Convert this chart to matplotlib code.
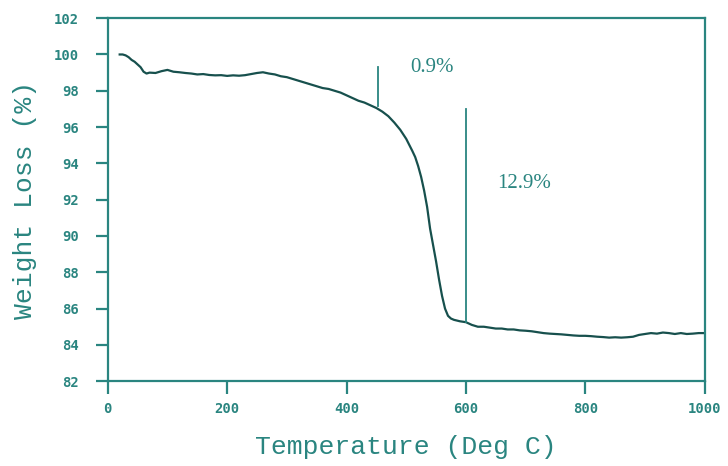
import matplotlib.pyplot as plt

# TGA curve
temp = [20, 25, 30, 35, 40, 45, 50, 55, 60, 65, 70, 80, 90, 100, 110, 120, 130, 140,
        150, 160, 170, 180, 190, 200, 210, 220, 230, 240, 250, 260, 270, 280, 290,
        300, 310, 320, 330, 340, 350, 360, 370, 380, 390, 400, 410, 420, 430, 440,
        450, 460, 470, 480, 490, 500, 510, 515, 520, 525, 530, 535, 540, 545, 550,
        555, 560, 565, 570, 575, 580, 590, 600, 610, 620, 630, 640, 650, 660, 670,
        680, 690, 700, 710, 720, 730, 740, 750, 760, 770, 780, 790, 800, 810, 820,
        830, 840, 850, 860, 870, 880, 890, 900, 910, 920, 930, 940, 950, 960, 970,
        980, 990, 1000]
weight = [100.0, 100.0, 99.95, 99.85, 99.7, 99.6, 99.45, 99.3, 99.05, 98.95, 99.0,
          98.98, 99.08, 99.15, 99.05, 99.02, 98.98, 98.95, 98.9, 98.92, 98.87, 98.85,
          98.86, 98.82, 98.85, 98.83, 98.86, 98.92, 98.98, 99.02, 98.95, 98.9, 98.8,
          98.75, 98.65, 98.55, 98.45, 98.35, 98.25, 98.15, 98.1, 98.0, 97.9, 97.75,
          97.6, 97.45, 97.35, 97.2, 97.05, 96.85, 96.6, 96.25, 95.85, 95.35, 94.7,
          94.35, 93.85, 93.25, 92.5, 91.6, 90.4, 89.5, 88.6, 87.6, 86.7, 86.0, 85.6,
          85.45, 85.38, 85.3, 85.25, 85.1, 85.0, 85.0, 84.95, 84.9, 84.9, 84.85, 84.85,
          84.8, 84.78, 84.75, 84.7, 84.65, 84.62, 84.6, 84.58, 84.55, 84.52, 84.5,
          84.5, 84.48, 84.45, 84.43, 84.4, 84.42, 84.4, 84.42, 84.45, 84.55, 84.6,
          84.65, 84.62, 84.68, 84.65, 84.6, 84.65, 84.6, 84.62, 84.65, 84.65]

# step markers: (x, y_top, y_bottom) and labels
step_x = [452, 600]
step_top = [99.3, 97.0]
step_bottom = [97.15, 85.25]
step_labels = ["0.9%", "12.9%"]
label_x = [507, 652]
label_y = [99.3, 92.9]

teal = "#2a8580"
dark = "#17504d"

fig = plt.figure(figsize=(7.28, 4.66), dpi=100)
ax = fig.add_axes([0.148, 0.182, 0.82, 0.779])

ax.plot(temp, weight, color=dark, linewidth=1.6)
for x, y0, y1 in zip(step_x, step_top, step_bottom):
    ax.plot([x, x], [y1, y0], color=teal, linewidth=1.3)
for s, x, y in zip(step_labels, label_x, label_y):
    ax.text(x, y, s, family="Liberation Serif", fontsize=15, color=teal,
            va="center", ha="left")

ax.set_xlim(0, 1000)
ax.set_ylim(82, 102)
ax.set_xticks(range(0, 1001, 200))
ax.set_yticks(range(82, 103, 2))

for sp in ax.spines.values():
    sp.set_color(teal)
    sp.set_linewidth(1.6)

ax.tick_params(direction="out", length=9, width=1.6, color=teal, labelcolor=teal)
ax.tick_params(axis="y", pad=12)
ax.tick_params(axis="x", pad=6)
for lab in ax.get_xticklabels() + ax.get_yticklabels():
    lab.set_family("DejaVu Sans Mono")
    lab.set_fontsize(10)
    lab.set_fontweight("bold")

ax.set_xlabel("Temperature (Deg C)", family="Liberation Mono", fontsize=19,
              color=teal, labelpad=14)
ax.set_ylabel("Weight Loss (%)", family="Liberation Mono", fontsize=19,
              color=teal, labelpad=12)

fig.savefig("out.png", dpi=100)
